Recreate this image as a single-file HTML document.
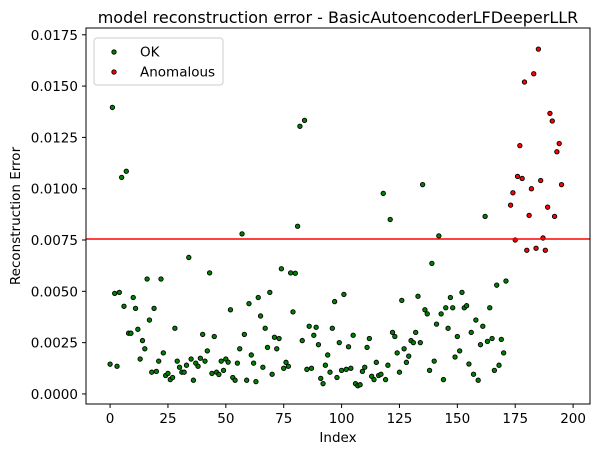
<!DOCTYPE html>
<html><head><meta charset="utf-8"><style>
body{margin:0;background:#fff;}
svg text{font-family:"DejaVu Sans","Liberation Sans",sans-serif;fill:#000;}
</style></head><body>
<svg id="chart" width="598" height="455" viewBox="0 0 598 455">
<rect width="598" height="455" fill="#fff"/>
<text x="338" y="23" font-size="16" text-anchor="middle">model reconstruction error - BasicAutoencoderLFDeeperLLR</text>
<g id="grid"></g>
<g id="marks"></g>
<rect x="86" y="28" width="504" height="376" fill="none" stroke="#000" stroke-width="1"/>
<text x="338" y="442" font-size="13.5" text-anchor="middle">Index</text>
<text transform="translate(20,216) rotate(-90)" font-size="13.5" text-anchor="middle">Reconstruction Error</text>
<g>
<rect x="94" y="38" width="129" height="47" rx="3" fill="#fff" fill-opacity="0.8" stroke="#ccc"/>
<g><circle cx="114" cy="52" r="2.2" fill="green" stroke="#000" stroke-width="0.9"/><text x="140" y="56.5" font-size="13.5">OK</text></g>
<g><circle cx="114" cy="72" r="2.2" fill="red" stroke="#000" stroke-width="0.9"/><text x="140" y="76.5" font-size="13.5">Anomalous</text></g>
</g>
</svg>
<script>
const okIdx=[0,1,2,3,4,5,6,7,8,9,10,11,12,13,14,15,16,17,18,19,20,21,22,23,24,25,26,27,28,29,30,31,32,33,34,35,36,37,38,39,40,41,42,43,44,45,46,47,48,49,50,51,52,53,54,55,56,57,58,59,60,61,62,63,64,65,66,67,68,69,70,71,72,73,74,75,76,77,78,79,80,81,82,83,84,85,86,87,88,89,90,91,92,93,94,95,96,97,98,99,100,101,102,103,104,105,106,107,108,109,110,111,112,113,114,115,116,117,118,119,120,121,122,123,124,125,126,127,128,129,130,131,132,133,134,135,136,137,138,139,140,141,142,143,144,145,146,147,148,149,150,151,152,153,154,155,156,157,158,159,160,161,162,163,164,165,166,167,168,169,170,171];
const okVal=[0.00145,0.01396,0.0049,0.00135,0.00495,0.01055,0.00427,0.01085,0.00296,0.00296,0.0047,0.00417,0.00315,0.0017,0.0026,0.0022,0.0056,0.0036,0.00106,0.00417,0.0011,0.0016,0.0056,0.002,0.0009,0.001,0.0007,0.0008,0.0032,0.0016,0.0013,0.00106,0.00106,0.0014,0.00665,0.0017,0.00067,0.0015,0.00135,0.00174,0.0029,0.0016,0.0021,0.0059,0.001,0.0028,0.00106,0.00095,0.0016,0.00115,0.0017,0.00155,0.0041,0.0008,0.00067,0.0015,0.0022,0.0078,0.0029,0.00067,0.0044,0.0019,0.0015,0.0006,0.0047,0.0038,0.0013,0.0032,0.00227,0.00495,0.00096,0.00276,0.0022,0.0027,0.0061,0.00125,0.00154,0.00135,0.0059,0.004,0.00588,0.00817,0.01304,0.0026,0.01333,0.0012,0.0033,0.00125,0.00286,0.00325,0.0024,0.00076,0.0005,0.0014,0.0019,0.00106,0.0032,0.0045,0.0008,0.0025,0.00115,0.00485,0.0012,0.0023,0.00125,0.00286,0.0005,0.0004,0.00045,0.0011,0.0013,0.00227,0.0027,0.00086,0.0007,0.00154,0.0009,0.00096,0.00977,0.0007,0.0014,0.0085,0.003,0.0028,0.002,0.00106,0.00456,0.0022,0.00154,0.00184,0.0026,0.0025,0.003,0.00476,0.0025,0.0102,0.0041,0.0039,0.00115,0.00636,0.0016,0.0034,0.0077,0.0039,0.0007,0.0042,0.0032,0.0047,0.0042,0.0018,0.0028,0.0021,0.00495,0.0042,0.0043,0.00146,0.003,0.00096,0.0036,0.00067,0.0024,0.0033,0.00865,0.00256,0.0042,0.0027,0.00115,0.0053,0.0014,0.00266,0.002,0.0055];
const anomIdx=[173,174,175,176,177,178,179,180,181,182,183,184,185,186,187,188,189,190,191,192,193,194,195];
const anomVal=[0.0092,0.0098,0.0075,0.0106,0.0121,0.0105,0.0152,0.007,0.0087,0.01,0.0156,0.0071,0.0168,0.0104,0.0076,0.007,0.0091,0.01367,0.0133,0.00865,0.0118,0.0122,0.0102];
const threshold=0.00755;
const xTicks=[0,25,50,75,100,125,150,175,200];
const yTicks=[0,0.0025,0.005,0.0075,0.01,0.0125,0.015,0.0175];

const NS="http://www.w3.org/2000/svg";
const X0=86,X1=590,Y0=28,Y1=404;
const xMin=-10.4,xMax=207.3,yMin=-0.00049,yMax=0.01783;
function sx(v){return X0+(v-xMin)/(xMax-xMin)*(X1-X0);}
function sy(v){return Y1-(v-yMin)/(yMax-yMin)*(Y1-Y0);}
function mk(tag,attrs,parent){const e=document.createElementNS(NS,tag);for(const k in attrs)e.setAttribute(k,attrs[k]);parent.appendChild(e);return e;}
const grid=document.getElementById('grid'),marks=document.getElementById('marks');
xTicks.forEach(t=>{
  const l=mk('line',{x1:sx(t),x2:sx(t),y1:Y1,y2:Y1+4,stroke:'#000'},grid);
  
  
  const tx=mk('text',{x:sx(t),y:Y1+19,'font-size':'13.5','text-anchor':'middle'},grid);tx.textContent=t;
  
  
});
yTicks.forEach(t=>{
  const l=mk('line',{x1:X0-4,x2:X0,y1:sy(t),y2:sy(t),stroke:'#000'},grid);
  
  
  const tx=mk('text',{x:X0-8,y:sy(t)+5,'font-size':'13.5','text-anchor':'end'},grid);tx.textContent=t.toFixed(4);
  
  
});
okIdx.forEach((x,i)=>{
  const c=mk('circle',{cx:sx(x),cy:sy(okVal[i]),r:2.2,fill:'green',stroke:'#000','stroke-width':0.9},marks);
  
  
});
anomIdx.forEach((x,i)=>{
  const c=mk('circle',{cx:sx(x),cy:sy(anomVal[i]),r:2.2,fill:'red',stroke:'#000','stroke-width':0.9},marks);
  
  
});
const th=mk('line',{x1:X0,x2:X1,y1:sy(threshold),y2:sy(threshold),stroke:'red','stroke-width':1.5},marks);


</script>
</body></html>
